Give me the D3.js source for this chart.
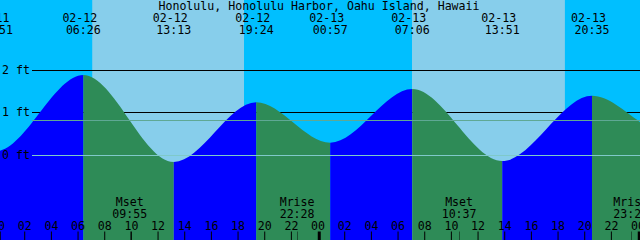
<!DOCTYPE html>
<meta charset="utf-8" />
<script src="https://d3js.org/d3.v7.min.js"></script>
<style>
  body { margin: 0; background: #fff; }
  svg { display: block; }
  text { font-family: "DejaVu Sans Mono", monospace; font-size: 11.6px; fill: #000; }
</style>
<div id="chart"></div>
<script>
  // tide extremes (local time) and heights in feet
  const tideTimes = ["02-11 23:51", "02-12 06:26", "02-12 13:13", "02-12 19:24",
    "02-13 00:57", "02-13 07:06", "02-13 13:51", "02-13 20:35", "02-14 02:20"];
  const tideHeights = [0.1, 1.89, -0.15, 1.25, 0.3, 1.56, -0.13, 1.4, 0.5];

  const sunrises = ["02-12 07:06", "02-13 07:05"];
  const sunsets = ["02-12 18:29", "02-13 18:33"];

  const moonLabels = ["Mset", "Mrise", "Mset", "Mrise"];
  const moonTimes = ["02-12 09:55", "02-12 22:28", "02-13 10:37", "02-13 23:29"];

  const heightLines = [1, 2];
  const datumLevel = 0;
  const mslLevel = 0.82;
  const title = "Honolulu, Honolulu Harbor, Oahu Island, Hawaii";

  const width = 640, height = 240;
  const parse = (s) => d3.utcParse("%Y-%m-%d %H:%M")("2025-" + s);

  const tides = tideTimes.map((t, i) => ({ time: parse(t), height: tideHeights[i] }));

  const x = d3.scaleUtc()
    .domain([parse("02-12 00:11"), parse("02-14 00:11")])
    .range([0, width]);
  const y = d3.scaleLinear().domain([0, 2]).range([155.5, 70.3]);
  const py = (v) => Math.floor(y(v)) + 0.5;

  const svg = d3.select("#chart").append("svg")
    .attr("width", width).attr("height", height);

  // night background + daylight bands
  svg.append("rect").attr("width", width).attr("height", height).attr("fill", "#00BFFF");
  svg.selectAll(".day").data(sunrises).join("rect")
    .attr("x", (d) => x(parse(d)))
    .attr("width", (d, i) => x(parse(sunsets[i])) - x(parse(d)))
    .attr("y", 0).attr("height", height)
    .attr("fill", "#87CEEB");

  // height grid lines (behind the tide)
  svg.selectAll(".hline").data(heightLines).join("line")
    .attr("x1", 32).attr("x2", width)
    .attr("y1", (d) => py(d)).attr("y2", (d) => py(d))
    .attr("stroke", "#000");

  // smooth S-shaped curve with flat tangents at each extreme
  function curveTide(context) {
    let x0, y0, n, line;
    return {
      areaStart() { line = 0; },
      areaEnd() { line = NaN; },
      lineStart() { n = 0; },
      lineEnd() {
        if (line || (line !== 0 && n === 1)) context.closePath();
        line = 1 - line;
      },
      point(px, pyy) {
        px = +px; pyy = +pyy;
        if (n === 0) {
          line ? context.lineTo(px, pyy) : context.moveTo(px, pyy);
        } else {
          const dx = (px - x0) / 3;
          context.bezierCurveTo(x0 + dx, y0, px - dx, pyy, px, pyy);
        }
        n++; x0 = px; y0 = pyy;
      }
    };
  }

  const area = d3.area()
    .x((d) => x(d.time))
    .y0(height)
    .y1((d) => y(d.height))
    .curve(curveTide);

  const segs = d3.pairs(tides);
  const defs = svg.append("defs");
  segs.forEach(([a, b], i) => {
    defs.append("clipPath").attr("id", "seg" + i)
      .append("rect")
      .attr("x", x(a.time)).attr("width", x(b.time) - x(a.time))
      .attr("y", 0).attr("height", height);
    svg.append("path")
      .datum(tides)
      .attr("d", area)
      .attr("clip-path", `url(#seg${i})`)
      .attr("fill", b.height > a.height ? "#0000FF" : "#2E8B57");
  });

  // datum and mean sea level lines (on top)
  svg.append("line")
    .attr("x1", 32).attr("x2", width)
    .attr("y1", py(datumLevel)).attr("y2", py(datumLevel))
    .attr("stroke", "#7FC9C9");
  svg.append("line")
    .attr("x1", 32).attr("x2", width)
    .attr("y1", py(mslLevel)).attr("y2", py(mslLevel))
    .attr("stroke", "#5FA894");

  // y labels
  svg.selectAll(".ylab").data([0, 1, 2]).join("text")
    .attr("x", 2)
    .attr("y", (d) => py(d) + 3.8)
    .text((d) => d + " ft");

  // title and tide extreme labels
  svg.append("text").attr("x", 319).attr("y", 9.5)
    .attr("text-anchor", "middle").text(title);

  const fmtDate = d3.utcFormat("%m-%d"), fmtTime = d3.utcFormat("%H:%M");
  svg.selectAll(".tdate").data(tides).join("text")
    .attr("x", (d) => x(d.time) - 3.5).attr("y", 21.5)
    .attr("text-anchor", "middle").text((d) => fmtDate(d.time));
  svg.selectAll(".ttime").data(tides).join("text")
    .attr("x", (d) => x(d.time)).attr("y", 33.5)
    .attr("text-anchor", "middle").text((d) => fmtTime(d.time));

  // moon events
  const moon = moonTimes.map((t, i) => ({ time: parse(t), label: moonLabels[i] }));
  svg.selectAll(".mlab").data(moon).join("text")
    .attr("x", (d) => x(d.time)).attr("y", 205.7)
    .attr("text-anchor", "middle").text((d) => d.label);
  svg.selectAll(".mtime").data(moon).join("text")
    .attr("x", (d) => x(d.time)).attr("y", 217.7)
    .attr("text-anchor", "middle").text((d) => fmtTime(d.time));
  svg.selectAll(".mtick").data(moon).join("line")
    .attr("x1", (d) => Math.round(x(d.time)) + 0.5)
    .attr("x2", (d) => Math.round(x(d.time)) + 0.5)
    .attr("y1", 231.5).attr("y2", height)
    .attr("stroke", "#000").attr("stroke-opacity", 0.45);

  // hour axis (include the partial 00 ticks at both edges)
  const hourTicks = d3.utcHour.every(2).range(parse("02-12 00:00"), parse("02-14 00:01"));
  const axis = svg.append("g")
    .attr("transform", `translate(0,${height})`)
    .call(d3.axisTop(x)
      .tickValues(hourTicks)
      .tickFormat(d3.utcFormat("%H"))
      .tickSize(8.5)
      .tickPadding(2));
  axis.select(".domain").remove();
  axis.selectAll("text")
    .style("font-family", "DejaVu Sans Mono, monospace")
    .style("font-size", "11.6px")
    .attr("fill", "#000");
  axis.selectAll(".tick line").attr("stroke", "#000");
  axis.selectAll(".tick")
    .filter((d) => d.getUTCHours() === 0)
    .select("line")
    .attr("stroke-width", 3)
    .attr("transform", "translate(1.2,0)");
</script>
